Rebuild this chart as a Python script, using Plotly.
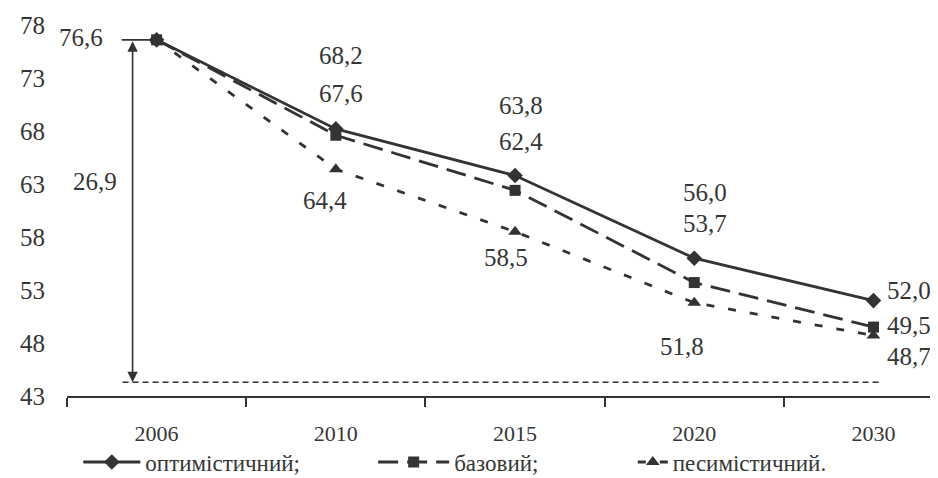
import plotly.graph_objects as go

# ---------------- data ----------------
years = ["2006", "2010", "2015", "2020", "2030"]
optimistic = [76.6, 68.2, 63.8, 56.0, 52.0]
base = [76.6, 67.6, 62.4, 53.7, 49.5]
pessimistic = [76.6, 64.4, 58.5, 51.8, 48.7]
y_ticks = [43, 48, 53, 58, 63, 68, 73, 78]
names = ["оптимістичний;", "базовий;", "песимістичний."]
gap_value = 26.9
baseline_level = 44.3

# ---------------- styles ----------------
INK = "#333333"
TXT = "#363636"
FONT = "Liberation Serif"

# label offsets (px) relative to each point: (xshift, yshift); None = no label
opt_off = [(-76, 2), (5, 73), (6, 70), (11, 66), (36, 10)]
base_off = [None, (5, 42), (6, 49), (11, 59), (36, 2)]
pess_off = [None, (-11, -31), (-9, -26), (-12, -44), (36, -21)]

fig = go.Figure()

series = [
    (optimistic, names[0], "solid", "diamond", 12, "legend"),
    (base, names[1], "20px,9px", "square", 11, "legend2"),
    (pessimistic, names[2], "8px,14px", "triangle-up", 12, "legend3"),
]
for vals, nm, dash, sym, ms, lg in series:
    fig.add_trace(go.Scatter(
        x=years, y=vals, name=nm, mode="lines+markers",
        line=dict(color=INK, width=2.8, dash=dash),
        marker=dict(symbol=sym, size=ms, color=INK),
        legend=lg, cliponaxis=False,
    ))

def fmt(v):
    return f"{v:.1f}".replace(".", ",")

annotations = []
for vals, offs in [(optimistic, opt_off), (base, base_off), (pessimistic, pess_off)]:
    for i, (v, off) in enumerate(zip(vals, offs)):
        if off is None:
            continue
        annotations.append(dict(
            x=i, y=v, xref="x", yref="y", text=fmt(v), showarrow=False,
            xshift=off[0], yshift=off[1],
            font=dict(family=FONT, size=25, color=TXT),
        ))

# gap label
annotations.append(dict(
    x=-0.345, y=63.2, xref="x", yref="y", text=fmt(gap_value), showarrow=False,
    font=dict(family=FONT, size=25, color=TXT),
))
# double-headed vertical arrow
annotations.append(dict(
    x=-0.134, y=baseline_level, ax=-0.134, ay=optimistic[0],
    xref="x", yref="y", axref="x", ayref="y", text="",
    showarrow=True, arrowhead=2, startarrowhead=2, arrowside="end+start",
    arrowsize=1.3, startarrowsize=1.3, arrowwidth=1.6, arrowcolor=INK,
    standoff=0, startstandoff=0,
))

shapes = [
    dict(type="line", xref="x", yref="y", x0=-0.195, x1=0, y0=optimistic[0], y1=optimistic[0],
         line=dict(color=INK, width=1.8)),
    dict(type="line", xref="x", yref="y", x0=-0.19, x1=4.05, y0=baseline_level, y1=baseline_level,
         line=dict(color=INK, width=1.6, dash="6px,4px")),
]

legend_common = dict(
    orientation="h", yanchor="middle", y=-0.178, xanchor="left",
    font=dict(family=FONT, size=23, color=TXT), bgcolor="rgba(0,0,0,0)",
)

# the page body adds an 8px offset, so the figure is drawn 8px smaller
fig.update_layout(
    width=930, height=470,
    margin=dict(l=59, r=0, t=17, b=82, autoexpand=False),
    paper_bgcolor="white", plot_bgcolor="white",
    font=dict(family=FONT, color=TXT),
    xaxis=dict(
        type="category", range=[-0.5, 4.36],
        showline=True, linecolor=INK, linewidth=2.2,
        ticks="outside", tickson="boundaries", ticklen=9, tickwidth=2, tickcolor=INK,
        showgrid=False, zeroline=False,
        tickfont=dict(family=FONT, size=22, color=TXT),
        ticklabelstandoff=16,
    ),
    yaxis=dict(
        range=[43, 78], tickvals=y_ticks, showline=False, showgrid=False, zeroline=False,
        ticks="", tickfont=dict(family=FONT, size=25, color=TXT),
        ticklabelstandoff=21,
    ),
    legend=dict(legend_common, x=0.013, itemwidth=57),
    legend2=dict(legend_common, x=0.3515, itemwidth=71),
    legend3=dict(legend_common, x=0.6496, itemwidth=30),
    annotations=annotations,
    shapes=shapes,
    showlegend=True,
)

fig.write_html("out.html")
